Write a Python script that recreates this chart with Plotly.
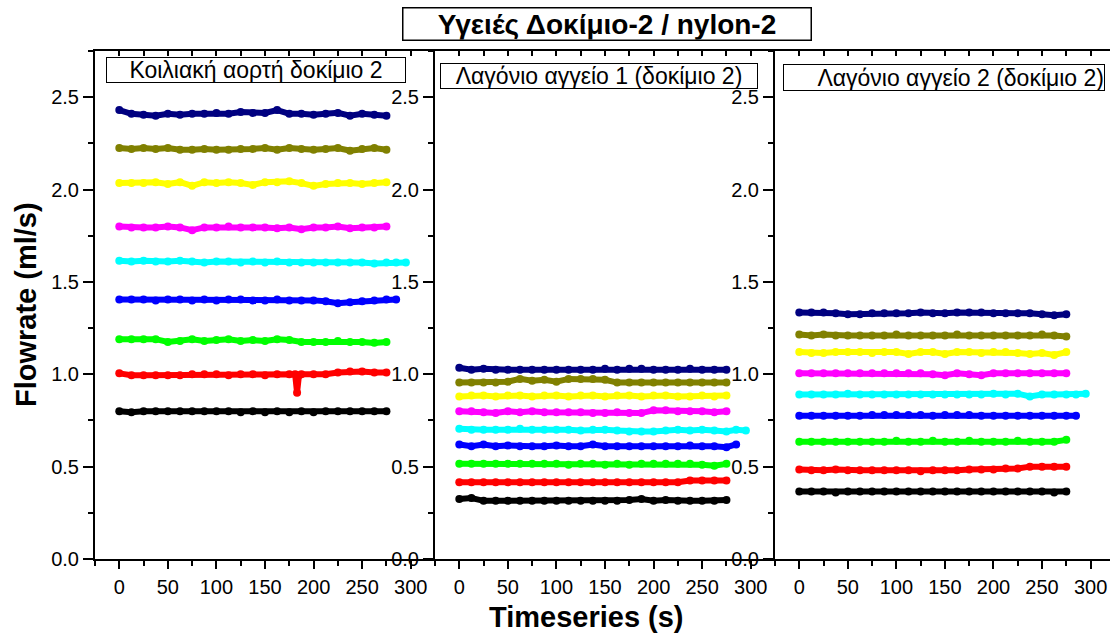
import plotly.graph_objects as go

# ---------------- data ----------------
T = [0, 12.5, 25, 37.5, 50, 62.5, 75, 87.5, 100, 112.5, 125, 137.5, 150, 162.5,
     175, 187.5, 200, 212.5, 225, 237.5, 250, 262.5, 275]
T_BLUE = T + [285]
T_CYAN = T + [285, 295]
T_SPIKE = T[:15] + [181, 183, 185] + T[15:]

COLORS = ["#000080", "#808000", "#FFFF00", "#FF00FF", "#00FFFF",
          "#0000FF", "#00FF00", "#FF0000", "#000000"]

# Panel 1 : Κοιλιακή αορτή δοκίμιο 2
p1_navy = [2.43, 2.41, 2.405, 2.40, 2.41, 2.405, 2.41, 2.41, 2.415, 2.41, 2.42, 2.415,
           2.415, 2.43, 2.41, 2.41, 2.405, 2.41, 2.415, 2.40, 2.41, 2.405, 2.40]
p1_olive = [2.225, 2.22, 2.225, 2.22, 2.225, 2.215, 2.215, 2.22, 2.215, 2.215, 2.22, 2.22,
            2.225, 2.215, 2.225, 2.22, 2.215, 2.22, 2.225, 2.21, 2.22, 2.225, 2.215]
p1_yellow = [2.035, 2.035, 2.035, 2.04, 2.03, 2.04, 2.02, 2.04, 2.035, 2.04, 2.035, 2.025,
             2.04, 2.04, 2.045, 2.035, 2.02, 2.03, 2.035, 2.035, 2.03, 2.035, 2.04]
p1_magenta = [1.80, 1.795, 1.795, 1.795, 1.80, 1.795, 1.78, 1.795, 1.795, 1.80, 1.795, 1.795,
              1.795, 1.79, 1.795, 1.785, 1.795, 1.795, 1.80, 1.79, 1.795, 1.795, 1.80]
p1_cyan = [1.615, 1.61, 1.615, 1.61, 1.61, 1.615, 1.61, 1.605, 1.61, 1.61, 1.605, 1.61, 1.605,
           1.61, 1.605, 1.605, 1.605, 1.605, 1.605, 1.605, 1.605, 1.60, 1.605, 1.605, 1.605]
p1_blue = [1.405, 1.405, 1.405, 1.40, 1.405, 1.405, 1.40, 1.405, 1.40, 1.405, 1.405, 1.40,
           1.40, 1.405, 1.40, 1.40, 1.40, 1.395, 1.385, 1.39, 1.395, 1.40, 1.405, 1.405]
p1_green = [1.19, 1.19, 1.19, 1.19, 1.175, 1.18, 1.19, 1.18, 1.185, 1.19, 1.18, 1.185,
            1.18, 1.19, 1.185, 1.175, 1.175, 1.175, 1.18, 1.175, 1.175, 1.17, 1.175]
p1_red = [1.005, 0.995, 0.995, 0.995, 0.995, 0.995, 1.0, 1.0, 1.0, 0.995, 1.0, 1.0, 0.995,
          1.0, 1.0, 1.0, 0.90, 0.995, 1.0, 1.0, 1.0, 1.01, 1.015, 1.015, 1.01, 1.01]
p1_black = [0.80, 0.795, 0.80, 0.80, 0.80, 0.80, 0.80, 0.80, 0.80, 0.80, 0.795, 0.80,
            0.795, 0.80, 0.795, 0.80, 0.795, 0.80, 0.80, 0.80, 0.80, 0.80, 0.80]

# Panel 2 : Λαγόνιο αγγείο 1 (δοκίμιο 2)
p2_navy = [1.035, 1.025, 1.03, 1.025, 1.025, 1.025, 1.025, 1.025, 1.025, 1.025, 1.025, 1.025,
           1.03, 1.025, 1.03, 1.03, 1.025, 1.025, 1.025, 1.03, 1.025, 1.025, 1.025]
p2_olive = [0.955, 0.955, 0.955, 0.955, 0.96, 0.975, 0.965, 0.97, 0.96, 0.975, 0.975, 0.975,
            0.97, 0.955, 0.955, 0.955, 0.955, 0.955, 0.955, 0.955, 0.955, 0.955, 0.955]
p2_yellow = [0.88, 0.885, 0.885, 0.88, 0.885, 0.885, 0.88, 0.885, 0.885, 0.88, 0.885, 0.885,
             0.88, 0.885, 0.885, 0.88, 0.885, 0.885, 0.88, 0.88, 0.885, 0.88, 0.885]
p2_magenta = [0.80, 0.80, 0.795, 0.79, 0.80, 0.795, 0.80, 0.795, 0.795, 0.795, 0.795, 0.79,
              0.79, 0.795, 0.79, 0.79, 0.805, 0.805, 0.80, 0.80, 0.80, 0.795, 0.80]
p2_cyan = [0.705, 0.70, 0.70, 0.70, 0.70, 0.705, 0.70, 0.70, 0.70, 0.70, 0.695, 0.70, 0.70,
           0.695, 0.69, 0.69, 0.69, 0.695, 0.70, 0.695, 0.70, 0.695, 0.69, 0.70, 0.695]
p2_blue = [0.62, 0.61, 0.62, 0.61, 0.615, 0.61, 0.61, 0.61, 0.615, 0.61, 0.61, 0.62,
           0.61, 0.61, 0.61, 0.61, 0.61, 0.61, 0.61, 0.615, 0.61, 0.61, 0.605, 0.62]
p2_green = [0.515, 0.515, 0.515, 0.515, 0.515, 0.515, 0.515, 0.515, 0.515, 0.51, 0.515, 0.515,
            0.51, 0.515, 0.51, 0.515, 0.515, 0.515, 0.515, 0.515, 0.51, 0.505, 0.515]
p2_red = [0.415, 0.415, 0.415, 0.415, 0.415, 0.415, 0.415, 0.415, 0.415, 0.415, 0.415, 0.415,
          0.415, 0.415, 0.415, 0.415, 0.415, 0.415, 0.415, 0.425, 0.425, 0.425, 0.425]
p2_black = [0.325, 0.33, 0.315, 0.315, 0.315, 0.315, 0.315, 0.315, 0.315, 0.315, 0.315, 0.315,
            0.315, 0.315, 0.32, 0.325, 0.315, 0.32, 0.315, 0.315, 0.315, 0.315, 0.32]

# Panel 3 : Λαγόνιο αγγείο 2 (δοκίμιο 2)
p3_navy = [1.335, 1.335, 1.335, 1.33, 1.325, 1.325, 1.33, 1.33, 1.33, 1.33, 1.335, 1.33,
           1.33, 1.335, 1.335, 1.335, 1.33, 1.33, 1.33, 1.33, 1.325, 1.32, 1.325]
p3_olive = [1.215, 1.21, 1.215, 1.21, 1.21, 1.21, 1.21, 1.21, 1.215, 1.21, 1.21, 1.21,
            1.21, 1.215, 1.21, 1.21, 1.21, 1.21, 1.21, 1.21, 1.215, 1.21, 1.205]
p3_yellow = [1.12, 1.115, 1.115, 1.12, 1.12, 1.12, 1.115, 1.12, 1.12, 1.11, 1.12, 1.12,
             1.11, 1.12, 1.12, 1.115, 1.12, 1.12, 1.115, 1.11, 1.115, 1.105, 1.12]
p3_magenta = [1.005, 1.005, 1.005, 1.005, 1.005, 1.005, 1.005, 1.005, 1.005, 1.005, 1.005, 1.0,
              0.995, 1.005, 1.0, 0.995, 1.005, 1.005, 1.005, 1.005, 1.005, 1.005, 1.005]
p3_cyan = [0.89, 0.89, 0.89, 0.89, 0.895, 0.89, 0.89, 0.89, 0.89, 0.89, 0.89, 0.89, 0.89,
           0.89, 0.89, 0.89, 0.895, 0.89, 0.895, 0.88, 0.89, 0.89, 0.89, 0.89, 0.895]
p3_blue = [0.775, 0.775, 0.775, 0.775, 0.775, 0.775, 0.78, 0.78, 0.78, 0.78, 0.78, 0.775,
           0.78, 0.78, 0.78, 0.775, 0.775, 0.775, 0.775, 0.775, 0.775, 0.775, 0.775, 0.775]
p3_green = [0.635, 0.635, 0.635, 0.635, 0.635, 0.635, 0.635, 0.635, 0.64, 0.635, 0.635, 0.64,
            0.635, 0.635, 0.64, 0.635, 0.635, 0.635, 0.64, 0.635, 0.635, 0.635, 0.645]
p3_red = [0.485, 0.48, 0.48, 0.485, 0.48, 0.48, 0.48, 0.48, 0.48, 0.48, 0.475, 0.48,
          0.48, 0.48, 0.485, 0.485, 0.485, 0.49, 0.49, 0.50, 0.50, 0.50, 0.50]
p3_black = [0.365, 0.365, 0.365, 0.36, 0.365, 0.365, 0.365, 0.365, 0.365, 0.365, 0.365, 0.365,
            0.365, 0.365, 0.365, 0.365, 0.365, 0.365, 0.365, 0.365, 0.365, 0.36, 0.365]

PANEL_TITLES = ["Κοιλιακή αορτή δοκίμιο 2", "Λαγόνιο αγγείο 1 (δοκίμιο 2)",
                "Λαγόνιο αγγείο 2 (δοκίμιο 2)"]
MAIN_TITLE = "Υγειές Δοκίμιο-2 / nylon-2"
X_TITLE = "Timeseries (s)"
Y_TITLE = "Flowrate (ml/s)"

TIMES = [T, T, T, T, T_CYAN, T_BLUE, T, T, T]
PANELS = [
    [p1_navy, p1_olive, p1_yellow, p1_magenta, p1_cyan, p1_blue, p1_green, p1_red, p1_black],
    [p2_navy, p2_olive, p2_yellow, p2_magenta, p2_cyan, p2_blue, p2_green, p2_red, p2_black],
    [p3_navy, p3_olive, p3_yellow, p3_magenta, p3_cyan, p3_blue, p3_green, p3_red, p3_black],
]

# ---------------- figure ----------------
FONT = "Liberation Sans, Arial, sans-serif"
W, H = 1110, 633
ML, MR, MT, MB = 0, 0, 51, 74
PH = H - MT - MB

def px_x(px):
    return px / W

def px_y(py):
    return (H - MB - py) / PH

fig = go.Figure()
axis_ids = ["", "2", "3"]
for pi, series in enumerate(PANELS):
    for si, vals in enumerate(series):
        xs = TIMES[si]
        if pi == 0 and si == 7:
            xs = T_SPIKE
        fig.add_trace(go.Scatter(
            x=xs, y=vals, mode="lines+markers",
            line=dict(color=COLORS[si], width=6),
            marker=dict(color=COLORS[si], size=8),
            xaxis="x" + axis_ids[pi], yaxis="y" + axis_ids[pi],
            showlegend=False, hoverinfo="skip"))

edges = [95, 435, 775, 1110]
xranges = [[-25, 325], [-25, 325], [-25, 320]]
TICKSIZE = 20
layout = dict(
    width=W, height=H, margin=dict(l=ML, r=MR, t=MT, b=MB),
    paper_bgcolor="white", plot_bgcolor="white",
    font=dict(family=FONT, size=TICKSIZE, color="black"),
    showlegend=False,
)
for i, aid in enumerate(axis_ids):
    dom = [px_x(edges[i]), px_x(edges[i + 1])]
    layout["xaxis" + aid] = dict(
        domain=dom, range=xranges[i], anchor="y" + aid,
        tick0=0, dtick=50, ticks="outside", ticklen=8, tickwidth=2, tickcolor="black",
        minor=dict(tick0=-25, dtick=25, ticks="outside", ticklen=5, tickwidth=2, tickcolor="black"),
        showline=True, linecolor="black", linewidth=2, showgrid=False, zeroline=False,
        tickfont=dict(size=TICKSIZE), ticklabelstandoff=1,
    )
    layout["yaxis" + aid] = dict(
        domain=[0, 1], range=[0, 2.75], anchor="x" + aid,
        tick0=0, dtick=0.5, tickformat=".1f", ticks="outside", ticklen=10, tickwidth=2,
        tickcolor="black",
        minor=dict(tick0=0, dtick=0.25, ticks="outside", ticklen=5, tickwidth=2, tickcolor="black"),
        showline=True, linecolor="black", linewidth=2, showgrid=False, zeroline=False,
        tickfont=dict(size=TICKSIZE),
    )
    # top border with inward ticks
    layout["xaxis" + str(4 + i)] = dict(
        overlaying="x" + aid, side="top", range=xranges[i], anchor="y" + aid,
        tick0=-25, dtick=25, ticks="inside", ticklen=5, tickwidth=2, tickcolor="black",
        showticklabels=False, showline=True, linecolor="black", linewidth=2,
        showgrid=False, zeroline=False,
    )
fig.update_layout(**layout)

for i, aid in enumerate(axis_ids):
    fig.add_trace(go.Scatter(x=[], y=[], xaxis="x" + str(4 + i), yaxis="y" + aid,
                             showlegend=False, hoverinfo="skip"))

annotations = [
    dict(text="<b>" + MAIN_TITLE + "</b>", x=px_x(607), y=px_y(24), xref="paper", yref="paper",
         xanchor="center", yanchor="middle", showarrow=False, font=dict(size=28),
         bordercolor="black", borderwidth=1.5, borderpad=0, width=407, height=31),
    dict(text=PANEL_TITLES[0], x=px_x(256), y=px_y(70), xref="paper", yref="paper",
         xanchor="center", yanchor="middle", showarrow=False, font=dict(size=23),
         bordercolor="black", borderwidth=1, borderpad=0, width=298, height=24),
    dict(text=PANEL_TITLES[1], x=px_x(599), y=px_y(76), xref="paper", yref="paper",
         xanchor="center", yanchor="middle", showarrow=False, font=dict(size=23),
         bordercolor="black", borderwidth=1, borderpad=0, width=316, height=24),
    dict(text=PANEL_TITLES[2], x=px_x(944), y=px_y(77), xref="paper", yref="paper",
         xanchor="center", yanchor="middle", showarrow=False, font=dict(size=23),
         bordercolor="black", borderwidth=1, borderpad=0, width=320, height=25, align="right"),
    dict(text="<b>" + Y_TITLE + "</b>", x=px_x(26), y=px_y(305), xref="paper", yref="paper",
         xanchor="center", yanchor="middle", showarrow=False, textangle=-90, font=dict(size=29)),
    dict(text="<b>" + X_TITLE + "</b>", x=px_x(586), y=px_y(617), xref="paper", yref="paper",
         xanchor="center", yanchor="middle", showarrow=False, font=dict(size=29)),
]
fig.update_layout(annotations=annotations)

fig.write_html("out.html")
